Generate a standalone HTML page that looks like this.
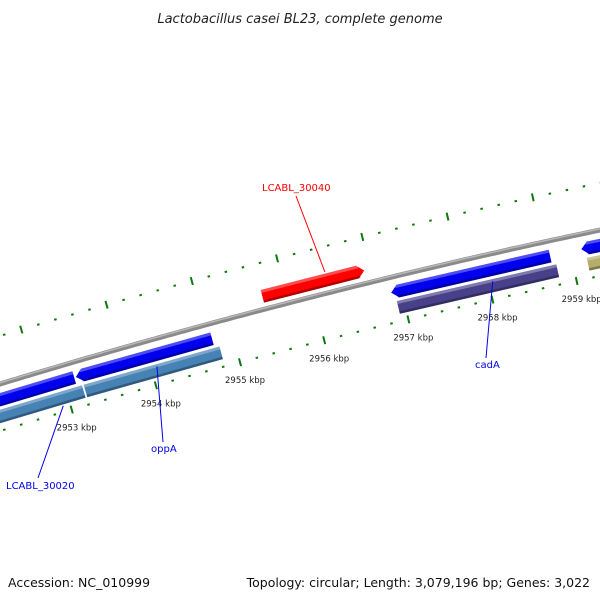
<!DOCTYPE html>
<html><head><meta charset="utf-8"><style>
body{margin:0;background:#fff}
svg{display:block;font-family:"DejaVu Sans","Liberation Sans",sans-serif}
</style></head><body>
<svg id="map" width="600" height="600" viewBox="0 0 600 600">
<rect width="600" height="600" fill="#fff"/>
<text x="300" y="23" text-anchor="middle" font-size="13" font-style="italic" fill="#222">Lactobacillus casei BL23, complete genome</text>
<text x="8" y="587" font-size="12.5" fill="#111">Accession: NC_010999</text>
<text x="590" y="587" text-anchor="end" font-size="12.5" fill="#111">Topology: circular; Length: 3,079,196 bp; Genes: 3,022</text>
<g id="layer"></g>
</svg>
<script>
// data
const tickKbp = [2953, 2954, 2955, 2956, 2957, 2958, 2959];
const tickLabels = ["2953 kbp","2954 kbp","2955 kbp","2956 kbp","2957 kbp","2958 kbp","2959 kbp"];
const geneNames = ["gene-left-1","LCABL_30020","LCABL_30040","cadA","gene-right","oppA-left","oppA","cadA-partner","gene-right-2"];
const geneStart = [2952.0, 2953.15, 2955.44, 2956.88, 2959.13, 2952.0, 2953.21, 2956.92, 2959.17];
const geneEnd   = [2953.13, 2954.76, 2956.64, 2958.76, 2960.2, 2953.19, 2954.82, 2958.81, 2960.2];
const geneStrand = [-1, -1, 1, -1, -1, 0, 0, 0, 0];
const geneTrack = [15, 15, -13, 15, 15, 31, 31, 31, 31];
const geneColor = ["#0000ee","#0000ee","#ff0000","#0000ee","#0000ee","#4682b4","#4682b4","#48418a","#b5ad6a"];
const labelText = ["LCABL_30040","oppA","cadA","LCABL_30020"];
const labelKbp = [2956.2, 2954.07, 2958.05, 2952.92];
const labelColor = ["#ff0000","#0000ee","#0000ee","#0000ee"];

const NS="http://www.w3.org/2000/svg";
const layer=document.getElementById('layer');
function xOf(k){return 59+(k-2953)*84.7;}
function base(x){const t=x/600;return 384*(1-t)*(1-t)+2*293*t*(1-t)+230*t*t;}
function pt(k,off){const x=xOf(k);const y=base(x);const dy=base(x+1)-y;const L=Math.hypot(1,dy);const nx=-dy/L,ny=1/L;return [x+nx*off,y+ny*off];}
function mk(tag,attrs){const e=document.createElementNS(NS,tag);for(const a in attrs)e.setAttribute(a,attrs[a]);layer.appendChild(e);return e;}
function P(a){return a.map(p=>p[0].toFixed(1)+','+p[1].toFixed(1)).join(' ');}

// backbone
let d='';for(let k=2952.2;k<=2960.3;k+=0.05){const p=pt(k,0);d+=(d?'L':'M')+p[0].toFixed(1)+' '+p[1].toFixed(1);}
let bb=mk('path',{d:d,stroke:'#8a8a8a','stroke-width':5,fill:'none'});


let bb2=mk('path',{d:d,stroke:'#b8b8b8','stroke-width':1.5,fill:'none',transform:'translate(0,-1.2)'});



// rulers
for(let i=-6;i<=40;i++){
  const k=2952+i*0.2; const major=Math.abs(Math.round(k)-k)<0.01;
  const a=pt(k,major?41:44), b=pt(k,major?49:46);
  let t=mk('line',{x1:a[0],y1:a[1],x2:b[0],y2:b[1],stroke:'#0a7a0a','stroke-width':major?2:2.5});
  
  
  const ko=k+0.71-1; const mo=major;
  const c=pt(ko,mo?-50:-47), e=pt(ko,mo?-42:-45);
  let t2=mk('line',{x1:c[0],y1:c[1],x2:e[0],y2:e[1],stroke:'#0a7a0a','stroke-width':mo?2:2.5});
  
  
}
tickKbp.forEach((k,i)=>{const p=pt(k,45);
  let t=mk('text',{x:p[0]+5,y:p[1]+21,'text-anchor':'middle','font-size':8.5,fill:'#222'});
  t.textContent=tickLabels[i];
  
  
});

// genes
geneStart.forEach((s,i)=>{
  const e=geneEnd[i],o=geneTrack[i],h=6.5,st=geneStrand[i];
  let pts;
  if(st===1){pts=[pt(s,o-h),pt(e-0.08,o-h),pt(e,o),pt(e-0.08,o+h),pt(s,o+h)];}
  else if(st===-1){pts=[pt(s+0.08,o-h),pt(e,o-h),pt(e,o+h),pt(s+0.08,o+h),pt(s,o)];}
  else {pts=[pt(s,o-h),pt(e,o-h),pt(e,o+h),pt(s,o+h)];}
  let g=mk('polygon',{points:P(pts),fill:geneColor[i]});
  
  
  const s2=st===-1?s+0.06:s, e2=st===1?e-0.06:e;
  let hl=mk('polygon',{points:P([pt(s2,o-h),pt(e2,o-h),pt(e2,o-h+3),pt(s2,o-h+3)]),fill:'#fff','fill-opacity':0.3});
  
  
  let sh=mk('polygon',{points:P([pt(s2,o+h-2.5),pt(e2,o+h-2.5),pt(e2,o+h),pt(s2,o+h)]),fill:'#000','fill-opacity':0.3});
  
  
});

// labels
const labelAnchor=[[262,191],[151,452],[475,368],[6,489]];
const labelEnd=[[296,196],[163,442],[486,358],[38,478]];
labelText.forEach((t,i)=>{
  const off=geneTrack[[2,6,7,5][i]];
  const a=pt(labelKbp[i], i===0?off-8:off+(i===3?8:-4));
  let ln=mk('line',{x1:a[0],y1:a[1],x2:labelEnd[i][0],y2:labelEnd[i][1],stroke:labelColor[i],'stroke-width':1});
  
  
  let tx=mk('text',{x:labelAnchor[i][0],y:labelAnchor[i][1],'font-size':10,fill:labelColor[i]});
  tx.textContent=t;
  
  
});
</script>
</body></html>
